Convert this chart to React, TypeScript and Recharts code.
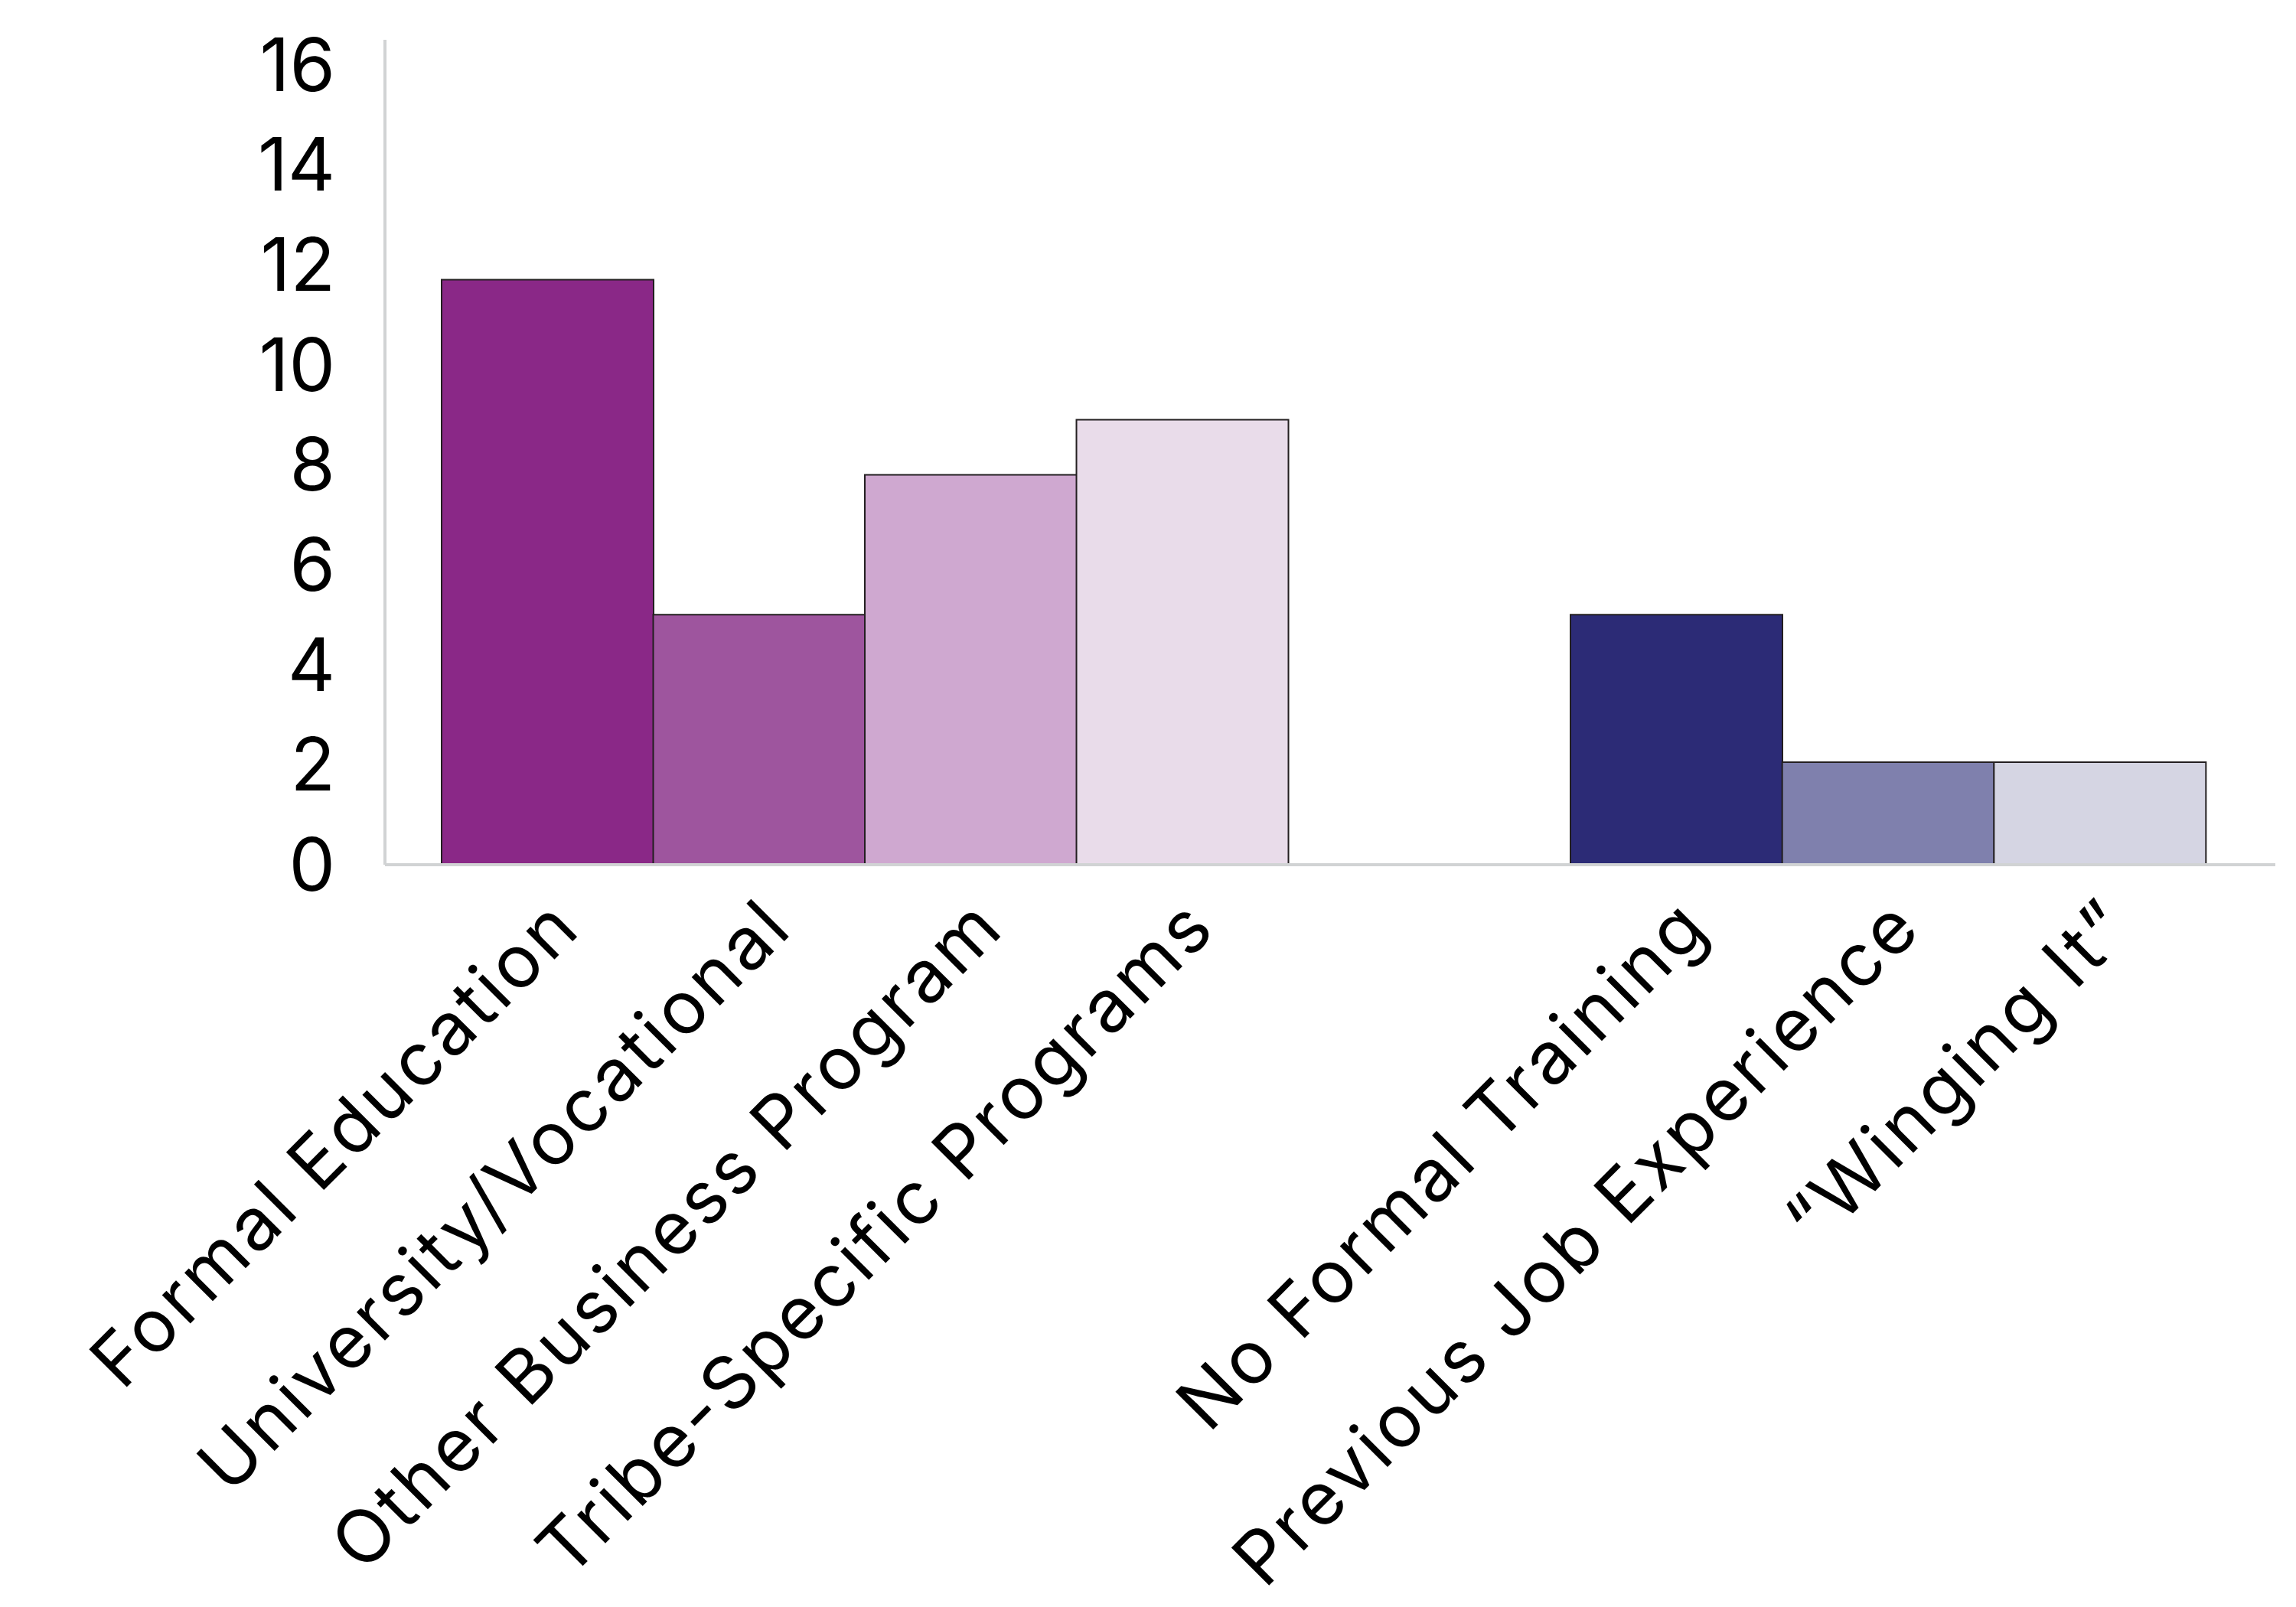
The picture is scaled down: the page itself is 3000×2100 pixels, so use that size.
import React from 'react'
import { BarChart, Bar, XAxis, YAxis, Cell } from 'recharts'

// left group: kinds of formal training
const trainingLabels = [
  'Formal Education',
  'University/Vocational',
  'Other Business Program',
  'Tribe-Specific Programs',
]
const trainingCounts = [11.7, 5, 7.8, 8.9]
const trainingColors = ['#8a2887', '#9e559e', '#cfa8d0', '#e9dcea']

// right group: no formal training
const noTrainingLabels = ['No Formal Training', 'Previous Job Experience', '\u201CWinging It\u201D']
const noTrainingCounts = [5, 2.05, 2.05]
const noTrainingColors = ['#2c2b76', '#7f80ad', '#d5d5e3']

const yTicks = [0, 2, 4, 6, 8, 10, 12, 14, 16]
const yDomain: [number, number] = [0, 16.5]

const trainingData = trainingLabels.map((name, i) => ({ name, value: trainingCounts[i] }))
const noTrainingData = noTrainingLabels.map((name, i) => ({ name, value: noTrainingCounts[i] }))

const FONT = 'Inter, "DejaVu Sans", sans-serif'
const AXIS_LINE = { stroke: '#d1d3d4', strokeWidth: 4 }
const W = 3000
const H = 2100

const CategoryTick = ({ x, y, payload }: { x?: number; y?: number; payload?: { value: string } }) => {
  const tx = (x ?? 0) + 47
  const ty = (y ?? 0) + 86
  return (
    <text
      x={tx}
      y={ty}
      transform={`rotate(-45, ${tx}, ${ty})`}
      textAnchor="end"
      fontSize={96}
      fontFamily={FONT}
      letterSpacing={4}
      fill="#000"
    >
      {payload?.value}
    </text>
  )
}

// both groups share the same plot box; the right group is drawn on a second
// chart laid over the first so the gap between the groups can be wider than a bar
export default function App() {
  return (
    <div style={{ position: 'absolute', left: 0, top: 0, width: W, height: H, background: '#fff' }}>
      <div style={{ position: 'absolute', left: 0, top: 0 }}>
        <BarChart
          width={W}
          height={H}
          data={trainingData}
          margin={{ top: 52, right: 27, left: 0, bottom: 0 }}
          barCategoryGap={0}
          barGap={0}
        >
          <XAxis
            dataKey="name"
            interval={0}
            height={970}
            padding={{ left: 74, right: 1290 }}
            axisLine={AXIS_LINE}
            tickLine={false}
            tickSize={0}
            tickMargin={0}
            tick={<CategoryTick />}
          />
          <YAxis
            width={503}
            domain={yDomain}
            ticks={yTicks}
            interval={0}
            axisLine={AXIS_LINE}
            tickLine={false}
            tickSize={0}
            tickMargin={65}
            tick={{ fontSize: 96, fontFamily: FONT, fill: '#000' }}
          />
          <Bar dataKey="value" stroke="#231f20" strokeWidth={2} isAnimationActive={false}>
            {trainingData.map((d, i) => (
              <Cell key={i} fill={trainingColors[i]} />
            ))}
          </Bar>
        </BarChart>
      </div>
      <div style={{ position: 'absolute', left: 0, top: 0 }}>
        <BarChart
          width={W}
          height={H}
          data={noTrainingData}
          margin={{ top: 52, right: 27, left: 503, bottom: 0 }}
          barCategoryGap={0}
          barGap={0}
        >
          <XAxis
            dataKey="name"
            interval={0}
            height={970}
            padding={{ left: 1549, right: 91 }}
            axisLine={AXIS_LINE}
            tickLine={false}
            tickSize={0}
            tickMargin={0}
            tick={<CategoryTick />}
          />
          <YAxis hide width={0} domain={yDomain} ticks={yTicks} />
          <Bar dataKey="value" stroke="#231f20" strokeWidth={2} isAnimationActive={false}>
            {noTrainingData.map((d, i) => (
              <Cell key={i} fill={noTrainingColors[i]} />
            ))}
          </Bar>
        </BarChart>
      </div>
    </div>
  )
}
